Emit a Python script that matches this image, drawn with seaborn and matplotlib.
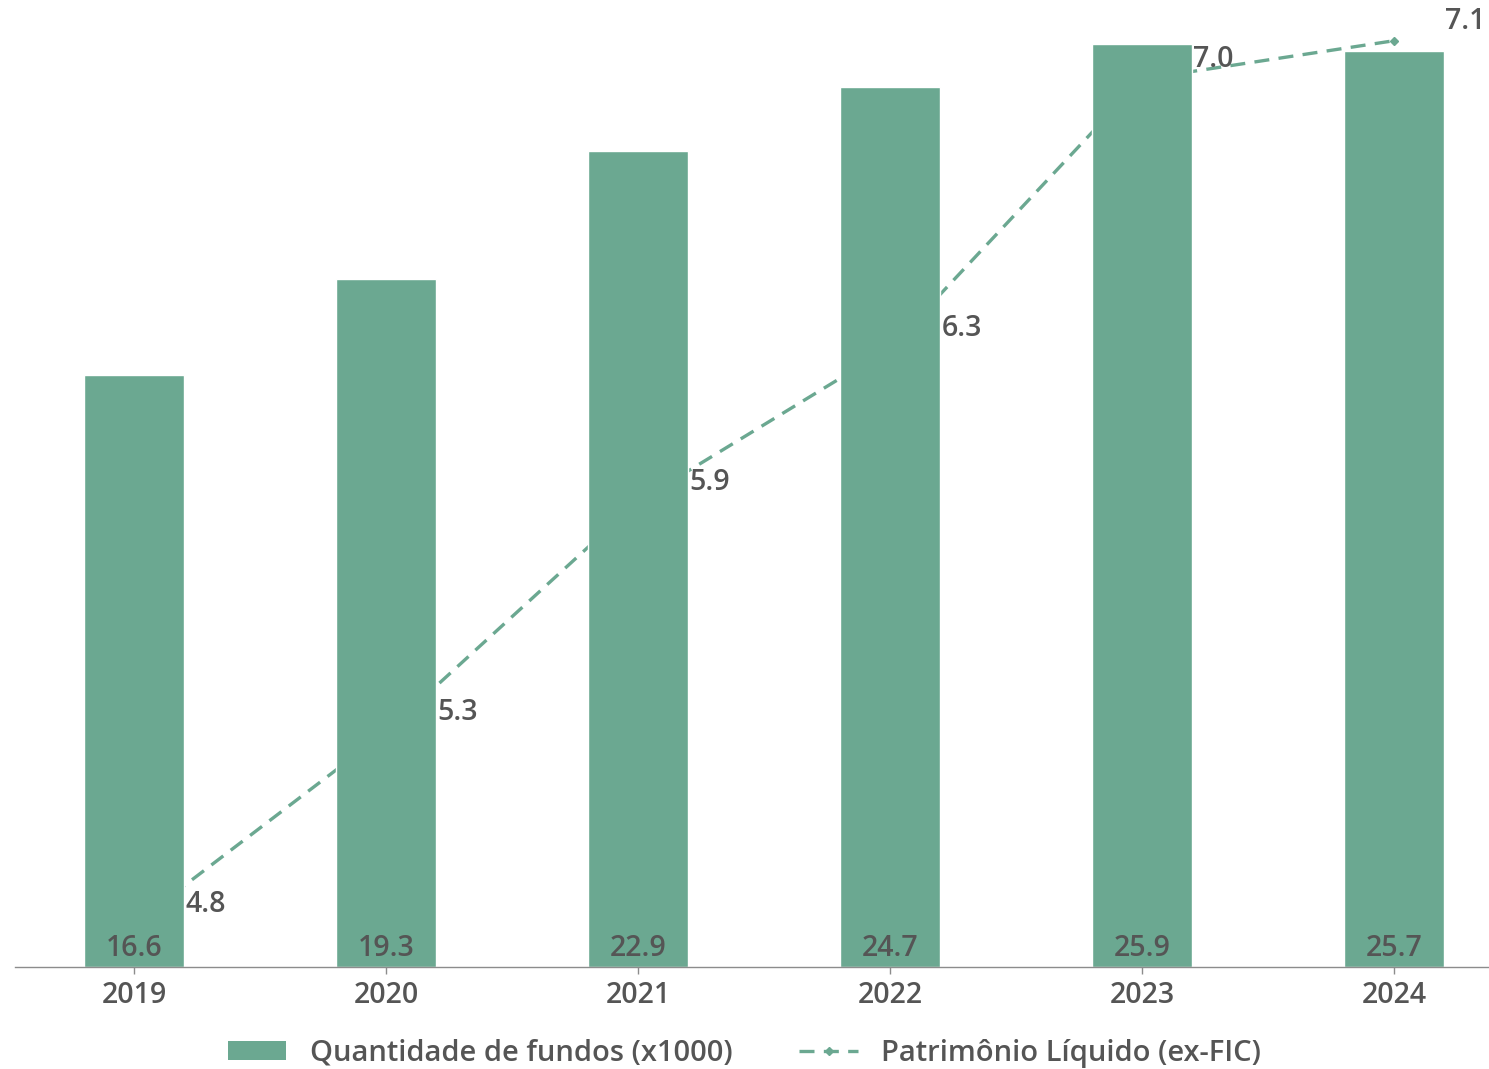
import matplotlib
matplotlib.use("Agg")
import matplotlib.pyplot as plt
import seaborn as sns
import numpy as np
from matplotlib.patches import Patch
from matplotlib.lines import Line2D

years = ["2019", "2020", "2021", "2022", "2023", "2024"]
qtd_fundos = [16.6, 19.3, 22.9, 24.7, 25.9, 25.7]
patrimonio = [4.8, 5.3, 5.9, 6.3, 7.0, 7.1]
label_bar = "Quantidade de fundos (x1000)"
label_line = "Patrimônio Líquido (ex-FIC)"

GREEN = "#6ba891"
TEXT = "#555555"
AXIS = "#8c8c8c"
FS = 20.5

sns.set_theme(style="white")
plt.rcParams["font.family"] = ["Open Sans", "DejaVu Sans"]

fig = plt.figure(figsize=(14.89, 10.69), dpi=100)
W, H = 1489, 1069
ax = fig.add_axes([15 / W, 1 - 967 / H, (1489 - 15) / W, (967 - 10) / H])
ax2 = ax.twinx()
ax.set_zorder(ax2.get_zorder() + 1)
ax.patch.set_visible(False)

sns.barplot(x=years, y=qtd_fundos, color=GREEN, saturation=1, width=0.397, ax=ax)
xpos = np.arange(len(years))
ax2.plot(xpos, patrimonio, color=GREEN, lw=2.4, dashes=(4.5, 2.8),
         marker="D", markersize=4.5)

ax.set_xlim(-0.472, 5.377)
ax.set_ylim(0, 26.85)
ax2.set_ylim(4.688, 7.18)

for a in (ax, ax2):
    for s in ["top", "right", "left"]:
        a.spines[s].set_visible(False)
    a.set_yticks([])
    a.set_ylabel("")
ax2.spines["bottom"].set_visible(False)
ax.spines["bottom"].set_color(AXIS)
ax.spines["bottom"].set_linewidth(1.0)
ax.set_xticks(xpos)
ax.set_xticklabels(years)
ax.tick_params(axis="x", bottom=True, length=5, width=1, color=AXIS, pad=5,
               labelsize=FS, labelcolor=TEXT)
for t in ax.get_xticklabels():
    t.set_fontweight("semibold")

for i, v in enumerate(qtd_fundos):
    ax.annotate(f"{v:.1f}", xy=(i, 0), xytext=(0, 3), textcoords="offset points",
                ha="center", va="bottom", fontsize=FS, color=TEXT, fontweight="semibold")

for i, v in enumerate(patrimonio):
    ax.annotate(f"{v:.1f}", xy=(i, v), xycoords=ax2.transData,
                xytext=(37, 14), textcoords="offset points",
                ha="left", va="center", fontsize=FS, color=TEXT, fontweight="semibold",
                annotation_clip=False)

handles = [Patch(facecolor=GREEN, edgecolor="none"),
           Line2D([0], [0], color=GREEN, lw=2.4, dashes=(4.5, 2.8), marker="D", markersize=4.5)]
leg = fig.legend(handles, [label_bar, label_line], loc="center", bbox_to_anchor=(0.5, 1 - 1053 / H),
                 ncol=2, frameon=False, fontsize=21, handlelength=2.0, handleheight=0.65,
                 handletextpad=0.8, columnspacing=2.3)
for t in leg.get_texts():
    t.set_color(TEXT)
    t.set_fontweight("semibold")

fig.savefig("out.png", dpi=100)
